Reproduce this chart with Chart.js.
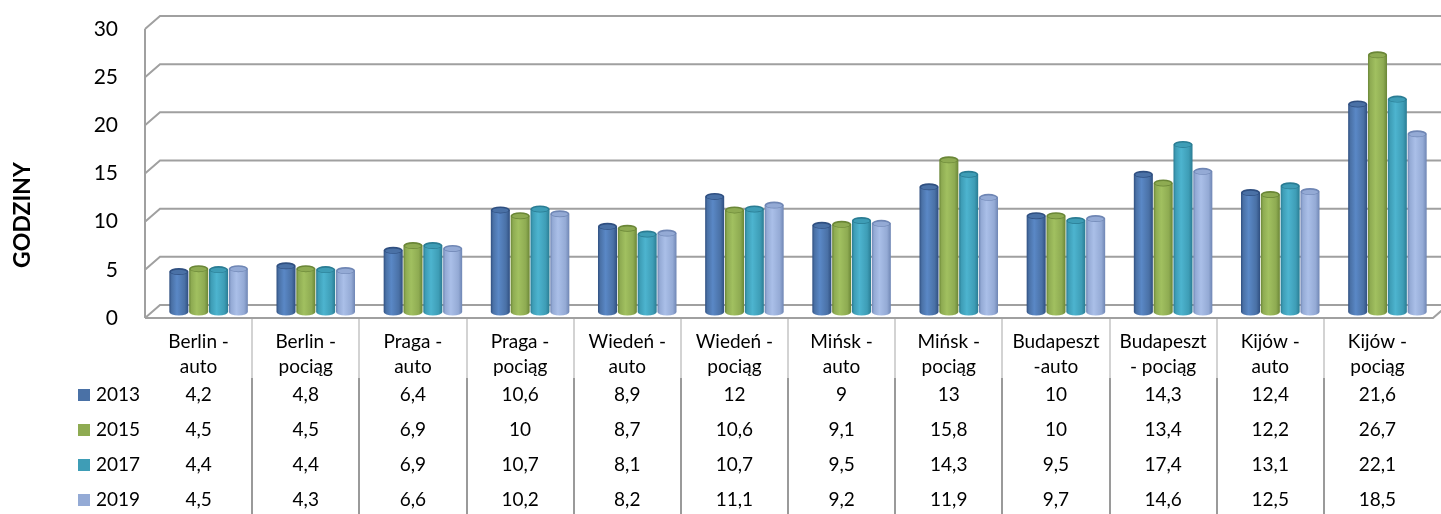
<!DOCTYPE html>
<html><head><meta charset="utf-8">
<script src="https://cdn.jsdelivr.net/npm/chart.js@4"></script>
<style>html,body{margin:0;padding:0;background:#fff}#wrap{width:1441px;height:514px}</style>
</head><body><div id="wrap"><canvas id="c" width="1441" height="514"></canvas></div>
<script>
const categories = [["Berlin -","auto"],["Berlin -","pociąg"],["Praga -","auto"],["Praga -","pociąg"],["Wiedeń -","auto"],["Wiedeń -","pociąg"],["Mińsk -","auto"],["Mińsk -","pociąg"],["Budapeszt","-auto"],["Budapeszt","- pociąg"],["Kijów -","auto"],["Kijów -","pociąg"]];
const seriesNames = ["2013","2015","2017","2019"];
const values2013 = [4.2,4.8,6.4,10.6,8.9,12,9,13,10,14.3,12.4,21.6];
const values2015 = [4.5,4.5,6.9,10,8.7,10.6,9.1,15.8,10,13.4,12.2,26.7];
const values2017 = [4.4,4.4,6.9,10.7,8.1,10.7,9.5,14.3,9.5,17.4,13.1,22.1];
const values2019 = [4.5,4.3,6.6,10.2,8.2,11.1,9.2,11.9,9.7,14.6,12.5,18.5];
const yTicks = [0,5,10,15,20,25,30];
const axisTitle = "GODZINY";

const seriesValues = [values2013, values2015, values2017, values2019];
const baseColors  = ['#4a71a6','#8eab52','#3e9db6','#94aad5'];
const lightColors = ['#5a88c6','#a1c060','#4db4cf','#aabfe8'];
const darkColors  = ['#2f4f80','#6a8637','#2a7c93','#6f86b4'];
const FONT = 'Lato, "Open Sans", sans-serif';
const DX = 15, DY = -13;      // 3D depth of the wall
const BX = 10, BY = -6;       // bars sit at mid-depth

function makeGrad(ctx, bar, i) {
  const w = bar.width;
  const g = ctx.createLinearGradient(bar.x - w/2, 0, bar.x + w/2, 0);
  g.addColorStop(0, darkColors[i]);
  g.addColorStop(0.12, baseColors[i]);
  g.addColorStop(0.4, lightColors[i]);
  g.addColorStop(0.8, baseColors[i]);
  g.addColorStop(1, darkColors[i]);
  return g;
}

const frame3d = {
  id: 'frame3d',
  beforeDatasetsDraw(chart) {
    const {ctx, chartArea: a, scales: {y}} = chart;
    ctx.save();
    ctx.strokeStyle = '#a0a0a0';
    ctx.lineWidth = 2;
    ctx.beginPath();
    ctx.moveTo(a.left, y.getPixelForValue(yTicks[yTicks.length-1]));
    ctx.lineTo(a.left, y.getPixelForValue(0));
    ctx.stroke();
    yTicks.forEach(t => {
      const py = y.getPixelForValue(t);
      ctx.beginPath();
      ctx.moveTo(a.left, py);
      ctx.lineTo(a.left + DX, py + DY);
      ctx.lineTo(chart.width, py + DY);
      ctx.stroke();
    });
    const p0 = y.getPixelForValue(0);
    ctx.beginPath();
    ctx.moveTo(a.left, p0);
    ctx.lineTo(a.right + 2, p0);
    ctx.lineTo(a.right + 2 + DX, p0 + DY);
    ctx.stroke();
    ctx.restore();

    ctx.save();
    ctx.translate(BX, BY);
    chart.data.datasets.forEach((ds, i) => {
      const meta = chart.getDatasetMeta(i);
      meta.data.forEach(bar => {
        const g = makeGrad(ctx, bar, i);
        bar.options = Object.assign({}, bar.options, { backgroundColor: g });
        bar.$grad = g;
      });
    });
  },
  afterDatasetsDraw(chart) {
    const {ctx} = chart;
    chart.data.datasets.forEach((ds, i) => {
      const meta = chart.getDatasetMeta(i);
      meta.data.forEach(bar => {
        const rx = bar.width / 2, ry = 3.5;
        ctx.beginPath();
        ctx.ellipse(bar.x, bar.base, rx, ry, 0, 0, Math.PI);
        ctx.fillStyle = bar.$grad;
        ctx.fill();
        ctx.beginPath();
        ctx.ellipse(bar.x, bar.y, rx, ry, 0, 0, Math.PI * 2);
        ctx.fillStyle = darkColors[i];
        ctx.fill();
        ctx.beginPath();
        ctx.ellipse(bar.x, bar.y + 0.5, rx - 1.5, ry - 1.2, 0, 0, Math.PI * 2);
        ctx.fillStyle = baseColors[i];
        ctx.fill();
      });
    });
    ctx.restore();
  },
  afterDraw(chart) {
    const {ctx, chartArea: a, scales: {x}} = chart;
    const n = categories.length;
    const cw = (a.right - a.left) / n;
    ctx.save();
    for (let i = 1; i < n; i++) {
      const px = Math.round(a.left + i * cw);
      ctx.strokeStyle = '#c4c4c4'; ctx.lineWidth = 1.5;
      ctx.beginPath(); ctx.moveTo(px, a.bottom + 1); ctx.lineTo(px, a.bottom + 60); ctx.stroke();
      ctx.strokeStyle = '#9a9a9a'; ctx.lineWidth = 2;
      ctx.beginPath(); ctx.moveTo(px, a.bottom + 60); ctx.lineTo(px, chart.height); ctx.stroke();
    }
    ctx.font = '19px ' + FONT;
    ctx.textBaseline = 'middle';
    seriesNames.forEach((name, k) => {
      const ry = a.bottom + 77 + k * 35;
      ctx.fillStyle = baseColors[k];
      ctx.fillRect(78, ry - 6, 12, 12);
      ctx.fillStyle = '#000';
      ctx.textAlign = 'left';
      ctx.fillText(name, 96, ry);
      ctx.textAlign = 'center';
      seriesValues[k].forEach((v, i) => {
        ctx.fillText(String(v).replace('.', ','), x.getPixelForValue(i), ry);
      });
    });
    ctx.translate(23, 215);
    ctx.rotate(-Math.PI / 2);
    ctx.font = 'bold 23px ' + FONT;
    ctx.textAlign = 'center';
    ctx.fillStyle = '#000';
    ctx.fillText(axisTitle, 0, 0);
    ctx.restore();
  }
};

new Chart(document.getElementById('c'), {
  type: 'bar',
  data: {
    labels: categories,
    datasets: seriesNames.map((name, i) => ({
      label: name,
      data: seriesValues[i],
      backgroundColor: baseColors[i],
      borderWidth: 0,
      categoryPercentage: 0.74,
      barPercentage: 0.96
    }))
  },
  options: {
    responsive: false,
    devicePixelRatio: 1,
    animation: false,
    layout: { padding: { left: 0, top: 29, right: 10, bottom: 0 } },
    plugins: { legend: { display: false }, tooltip: { enabled: false } },
    scales: {
      x: {
        grid: { display: false, drawTicks: false },
        border: { display: false },
        ticks: { color: '#000', font: { family: FONT, size: 19, lineHeight: 1.32 }, padding: 11, maxRotation: 0, autoSkip: false },
        afterFit: s => { s.height = 196; }
      },
      y: {
        min: 0, max: 30,
        grid: { display: false, drawTicks: true, tickLength: 24 },
        border: { display: false },
        ticks: { stepSize: 5, color: '#000', font: { family: FONT, size: 21 }, padding: 3 },
        afterFit: s => { s.width = 145; }
      }
    }
  },
  plugins: [frame3d]
});
</script>
</body></html>
